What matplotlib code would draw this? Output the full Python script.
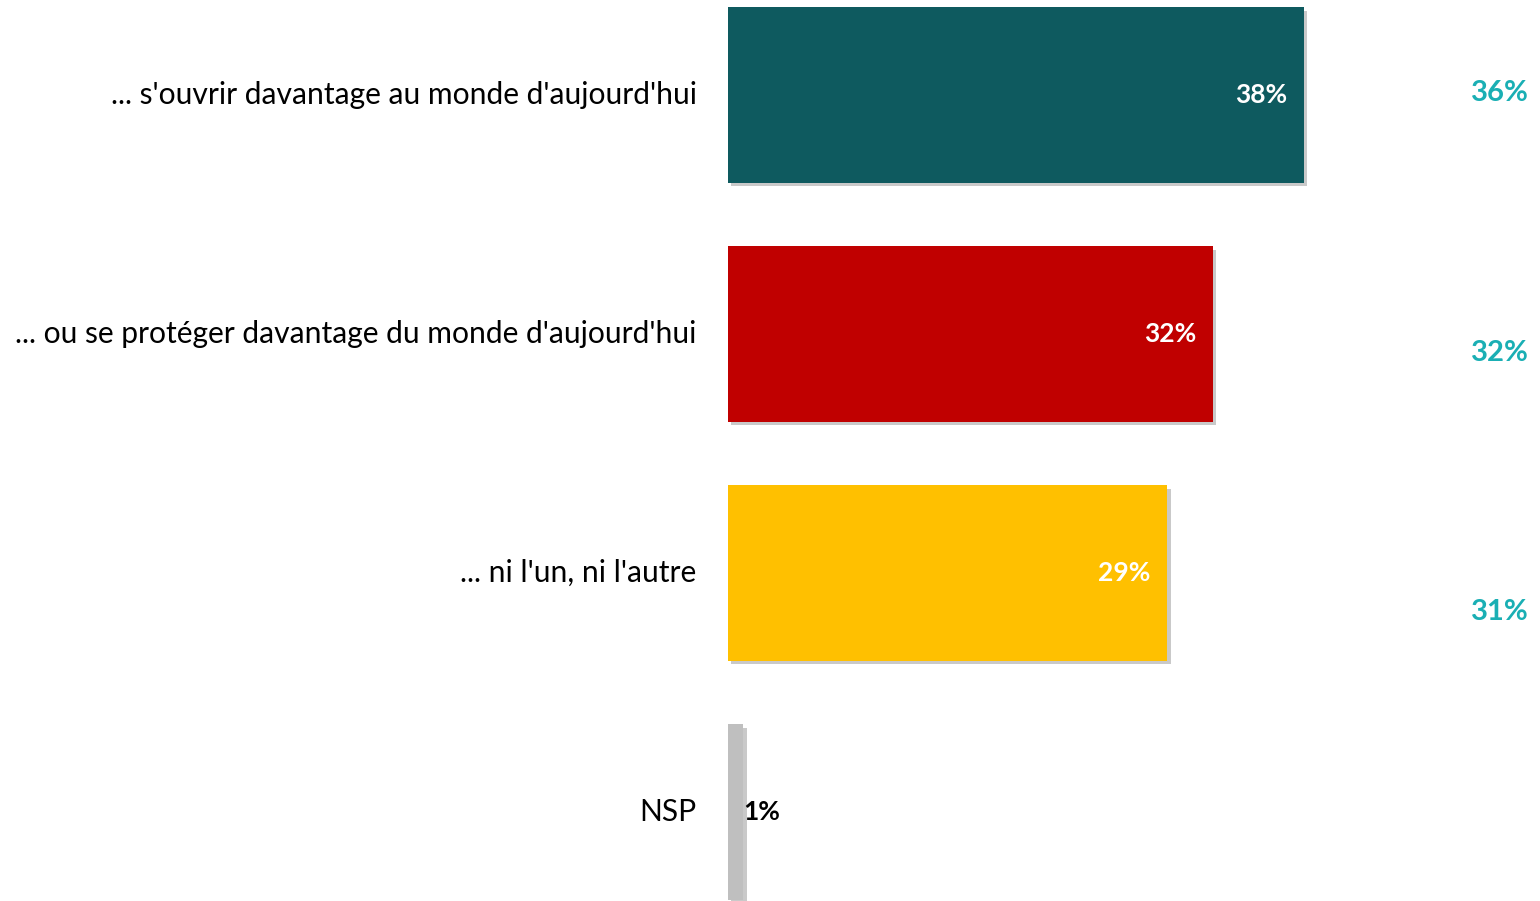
import matplotlib.pyplot as plt
import matplotlib.patheffects as pe

categories = ["... s'ouvrir davantage au monde d'aujourd'hui",
              "... ou se protéger davantage du monde d'aujourd'hui",
              "... ni l'un, ni l'autre",
              "NSP"]
values = [38, 32, 29, 1]
previous = [36, 32, 31]
bar_colors = ['#0E5A5F', '#C00000', '#FFC000', '#BFBFBF']
label_colors = ['white', 'white', 'white', 'black']

plt.rcParams['font.family'] = ['Lato', 'DejaVu Sans']

W, H = 1540, 901
fig = plt.figure(figsize=(W / 100, H / 100), dpi=100)

# main bars
ax = fig.add_axes([728 / W, 0, 1 - 728 / W, 1])
shadow = [pe.SimplePatchShadow(offset=(2.5, -2.5), shadow_rgbFace='#666666', alpha=0.35), pe.Normal()]
for i, (v, c) in enumerate(zip(values, bar_colors)):
    ax.barh(i, v, height=0.736, color=c, path_effects=shadow)

ax.set_xlim(0, 812 / 15.15)
ax.set_ylim((H - 95) / 239, -95 / 239)
ax.axis('off')

for i, (cat, v) in enumerate(zip(categories, values)):
    ax.annotate(cat, xy=(0, i), xytext=(-22.5, 0), textcoords='offset points',
                ha='right', va='center', fontsize=21.6, color='black')
    if v > 5:
        ax.annotate(f'{v}%', xy=(v, i), xytext=(-12, 0), textcoords='offset points',
                    ha='right', va='center', fontsize=19, fontweight='bold', color=label_colors[i])
    else:
        ax.annotate(f'{v}%', xy=(v, i), xytext=(0, 0), textcoords='offset points',
                    ha='left', va='center', fontsize=19, fontweight='bold', color=label_colors[i])

# previous wave column
ax2 = fig.add_axes([0, 0, 1, 1])
ax2.set_xlim(0, 1)
ax2.set_ylim((H - 93) / 259.5, -93 / 259.5)
ax2.axis('off')
for i, v in enumerate(previous):
    ax2.text(1529 / W, i, f'{v}%', ha='right', va='center', fontsize=21,
             fontweight='bold', color='#1AAFB4')

fig.savefig('out.png', dpi=100)
